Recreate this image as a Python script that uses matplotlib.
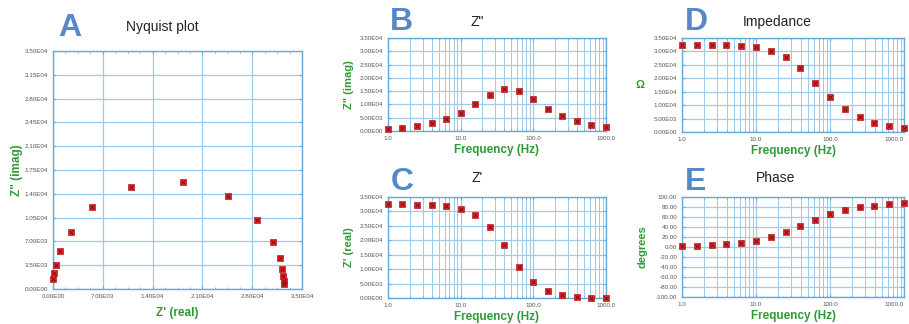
import numpy as np
import matplotlib
matplotlib.use("Agg")
import matplotlib.pyplot as plt
from matplotlib.ticker import FixedLocator, FixedFormatter, LogLocator, NullFormatter

plt.rcParams['font.family'] = ['Liberation Sans', 'DejaVu Sans']

# ==============================
# DATOS
# ==============================
freq = [1.0, 1.585, 2.512, 3.981, 6.310, 10.0, 15.85, 25.12, 39.81, 63.10,
        100.0, 158.5, 251.2, 398.1, 631.0, 1000.0]
z_real = [32450, 32400, 32350, 32200, 31850, 30900, 28700, 24600, 18300, 10900,
          5500, 2500, 1050, 420, 170, 70]
z_imag = [750, 1150, 1850, 2900, 4500, 6900, 10100, 13700, 15700, 15000,
          12000, 8400, 5600, 3600, 2300, 1450]
impedancia = [32400, 32400, 32350, 32300, 32100, 31500, 30300, 27800, 23700, 18400,
              13200, 8700, 5600, 3500, 2200, 1400]
fase = [1.3, 2.0, 3.0, 5.0, 8.0, 12.5, 19.5, 29.0, 41.0, 53.0,
        65.0, 73.0, 79.0, 82.5, 85.0, 87.0]

nyq_ticks = [0, 3500, 7000, 10500, 14000, 17500, 21000, 24500, 28000, 31500, 35000]
nyq_ylabels = ["0.00E00", "3.50E03", "7.00E03", "1.05E04", "1.40E04", "1.75E04",
               "2.10E04", "2.45E04", "2.80E04", "3.15E04", "3.50E04"]
nyq_xticks = [0, 7000, 14000, 21000, 28000, 35000]
nyq_xlabels = ["0.00E00", "7.00E03", "1.40E04", "2.10E04", "2.80E04", "3.50E04"]

z_ticks = [0, 5000, 10000, 15000, 20000, 25000, 30000, 35000]
z_labels = ["0.00E00", "5.00E03", "1.00E04", "1.50E04", "2.00E04", "2.50E04",
            "3.00E04", "3.50E04"]
fase_ticks = [-100, -80, -60, -40, -20, 0, 20, 40, 60, 80, 100]
fase_labels = ["-100.00", "-80.00", "-60.00", "-40.00", "-20.00", "0.00",
               "20.00", "40.00", "60.00", "80.00", "100.00"]
f_ticks = [1, 10, 100, 1000]
f_labels = ["1.0", "10.0", "100.0", "1000.0"]

# ==============================
# ESTILO
# ==============================
AZUL_EJE = "#62acdb"
AZUL_GRID = "#9ccae8"
VERDE = "#2f9a36"
LETRA = "#5588c8"
ROJO = "#e0242c"


def estilo(ax):
    for s in ax.spines.values():
        s.set_color(AZUL_EJE)
        s.set_linewidth(1.0)
    ax.tick_params(which="both", direction="in", colors=AZUL_EJE, labelcolor="#555555",
                   labelsize=4.5, length=2.5, top=True, right=True)
    ax.tick_params(which="minor", length=1.5)
    ax.grid(True, which="major", color=AZUL_GRID, linewidth=0.9)
    ax.set_axisbelow(True)


def puntos(ax, x, y):
    ax.plot(x, y, ls="none", marker="s", ms=3.8, mfc=ROJO, mec="#b81a1a",
            mew=0.5, clip_on=False, zorder=5)
    ax.plot(x, y, ls="none", marker="x", ms=2.3, mec="#6e0e0e",
            mew=0.6, clip_on=False, zorder=6)


def eje_log(ax, ultimo_derecha=False):
    ax.set_xscale("log")
    ax.set_xlim(1, 1000)
    ax.xaxis.set_major_locator(FixedLocator(f_ticks))
    ax.xaxis.set_major_formatter(FixedFormatter(f_labels))
    ax.xaxis.set_minor_locator(LogLocator(base=10, subs=np.arange(2, 10)))
    ax.xaxis.set_minor_formatter(NullFormatter())
    ax.grid(True, which="minor", axis="x", color=AZUL_GRID, linewidth=0.7)
    ax.set_xlabel("Frequency (Hz)", color=VERDE, fontweight="bold", fontsize=8.5, labelpad=2)
    if ultimo_derecha:
        ax.figure.canvas.draw()
        ax.get_xticklabels()[-1].set_horizontalalignment("right")


fig = plt.figure(figsize=(9.09, 3.24), dpi=100)

# ==============================
# A - NYQUIST
# ==============================
axA = fig.add_axes([0.0583, 0.108, 0.274, 0.7346])
estilo(axA)
puntos(axA, z_real, z_imag)
axA.set_xlim(0, 35000)
axA.set_ylim(0, 35000)
axA.set_xticks(nyq_xticks)
axA.set_xticklabels(nyq_xlabels)
axA.set_yticks(nyq_ticks)
axA.set_yticklabels(nyq_ylabels)
axA.set_xticks(np.arange(0, 35001, 1750), minor=True)
axA.set_xlabel("Z' (real)", color=VERDE, fontweight="bold", fontsize=8.5, labelpad=6)
axA.set_ylabel('Z" (imag)', color=VERDE, fontweight="bold", fontsize=8.5, labelpad=1)

# ==============================
# B - Z''
# ==============================
axB = fig.add_axes([0.4268, 0.5957, 0.2398, 0.287])
estilo(axB)
eje_log(axB)
puntos(axB, freq, z_imag)
axB.set_ylim(0, 35000)
axB.set_yticks(z_ticks)
axB.set_yticklabels(z_labels)
axB.set_ylabel('Z" (imag)', color=VERDE, fontweight="bold", fontsize=8, labelpad=4)

# ==============================
# C - Z'
# ==============================
axC = fig.add_axes([0.4268, 0.0802, 0.2398, 0.312])
estilo(axC)
eje_log(axC)
puntos(axC, freq, z_real)
axC.set_ylim(0, 35000)
axC.set_yticks(z_ticks)
axC.set_yticklabels(z_labels)
axC.set_ylabel("Z' (real)", color=VERDE, fontweight="bold", fontsize=8, labelpad=4)

# ==============================
# D - IMPEDANCIA
# ==============================
axD = fig.add_axes([0.7503, 0.5926, 0.2442, 0.290])
estilo(axD)
puntos(axD, freq, impedancia)
axD.set_ylim(0, 35000)
axD.set_yticks(z_ticks)
axD.set_yticklabels(z_labels)
axD.set_ylabel("Ω", color=VERDE, fontweight="bold", fontsize=8, labelpad=10, rotation=0,
               va="center")
eje_log(axD, ultimo_derecha=True)

# ==============================
# E - FASE
# ==============================
axE = fig.add_axes([0.7503, 0.0833, 0.2442, 0.309])
estilo(axE)
puntos(axE, freq, fase)
axE.set_ylim(-100, 100)
axE.set_yticks(fase_ticks)
axE.set_yticklabels(fase_labels)
axE.set_ylabel("degrees", color=VERDE, fontweight="bold", fontsize=8, labelpad=6)
eje_log(axE, ultimo_derecha=True)

# ==============================
# TITULOS Y LETRAS
# ==============================
def px(x, y):
    return x / 909, 1 - y / 324

titulos = [("A", 70, 28, "Nyquist plot", 162, 27),
           ("B", 401, 22, 'Z"', 477, 22),
           ("C", 402, 182, "Z'", 477, 178),
           ("D", 696, 22, "Impedance", 777, 22),
           ("E", 696, 182, "Phase", 776, 178)]
for letra, lx, ly, txt, tx, ty in titulos:
    fig.text(*px(lx, ly), letra, color=LETRA, fontsize=23, fontweight="bold",
             ha="center", va="center")
    fig.text(*px(tx, ty), txt, color="#222222", fontsize=10, ha="center", va="center")

plt.savefig("out.png", dpi=100)
plt.close()
